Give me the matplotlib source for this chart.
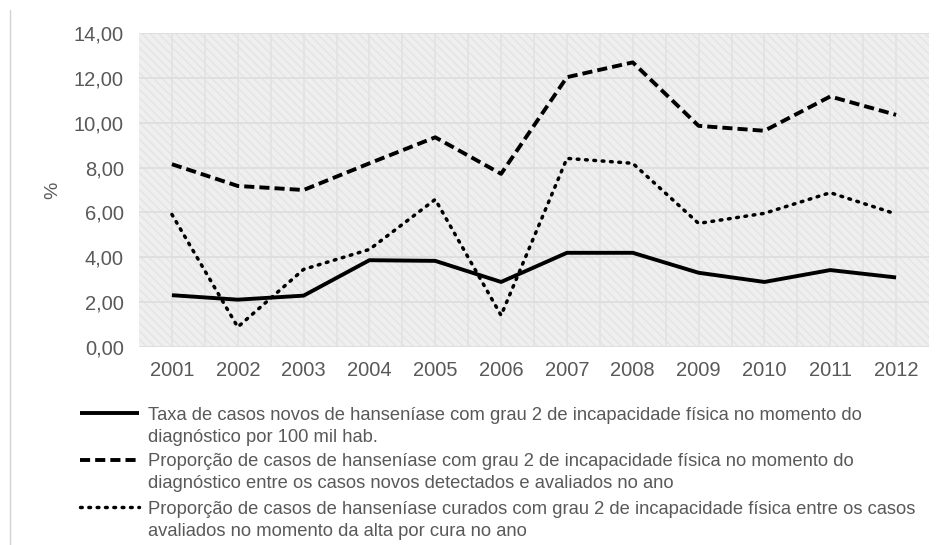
import matplotlib
matplotlib.use("Agg")
import matplotlib.pyplot as plt
from matplotlib.lines import Line2D
from matplotlib.patches import Rectangle
from matplotlib.ticker import FuncFormatter, MultipleLocator


YEARS = ["2001", "2002", "2003", "2004", "2005", "2006",
         "2007", "2008", "2009", "2010", "2011", "2012"]
TAXA_GRAU2 = [2.31, 2.11, 2.29, 3.87, 3.84, 2.90, 4.20, 4.20, 3.31, 2.90, 3.43, 3.10]
PROP_DIAGNOSTICO = [8.15, 7.18, 7.00, 8.19, 9.35, 7.72, 12.03, 12.69, 9.86, 9.64, 11.17, 10.35]
PROP_CURADOS = [5.91, 0.89, 3.46, 4.35, 6.58, 1.41, 8.41, 8.19, 5.51, 5.96, 6.88, 5.93]

LABELS = [
    ["Taxa de casos novos de hanseníase com grau 2 de incapacidade física no momento do",
     "diagnóstico por 100 mil hab."],
    ["Proporção de casos de hanseníase com grau 2 de incapacidade física no momento do",
     "diagnóstico entre os casos novos detectados e avaliados no ano"],
    ["Proporção de casos de hanseníase curados com grau 2 de incapacidade física entre os casos",
     "avaliados no momento da alta por cura no ano"],
]

TEXT_GREY = "#595959"
FONT = ["Liberation Sans", "DejaVu Sans"]

SOLID = dict(linestyle="-", linewidth=2.8, solid_capstyle="butt")
DASHED = dict(linestyle=(0, (2.6, 1.3)), linewidth=2.8, dash_capstyle="butt")
DOTTED = dict(linestyle=(0, (0.5, 1.9)), linewidth=2.5, dash_capstyle="round")


def main():
    fig = plt.figure(figsize=(9.47, 5.45), dpi=100)
    ax = fig.add_axes([139 / 947, 1 - 347 / 545, 790 / 947, 314 / 545])

    # hatched grey plot area
    ax.set_facecolor("#efefef")
    ax.add_patch(Rectangle((0, 0), 1, 1, transform=ax.transAxes,
                           facecolor="none", edgecolor="#e4e4e4",
                           hatch="\\\\\\\\", linewidth=0, zorder=0))

    x = list(range(len(YEARS)))
    ax.plot(x, TAXA_GRAU2, color="black", zorder=3, **SOLID)
    ax.plot(x, PROP_DIAGNOSTICO, color="black", zorder=3, **DASHED)
    ax.plot(x, PROP_CURADOS, color="black", zorder=3, **DOTTED)

    ax.set_xlim(-0.5, len(YEARS) - 0.5)
    ax.set_ylim(0, 14)
    ax.set_xticks(x)
    ax.set_xticklabels(YEARS)
    ax.yaxis.set_major_locator(MultipleLocator(2))
    ax.yaxis.set_major_formatter(FuncFormatter(lambda v, _: f"{v:.2f}".replace(".", ",")))

    ax.set_xticks([i + 0.5 for i in x[:-1]], minor=True)
    ax.grid(True, which="major", axis="y", color="#dedede", linewidth=1.3, zorder=1)
    ax.grid(True, which="both", axis="x", color="#e2e2e2", linewidth=1.2, zorder=1)
    ax.set_axisbelow(True)

    ax.tick_params(axis="both", which="both", length=0, colors=TEXT_GREY)
    ax.tick_params(axis="x", pad=10)
    ax.tick_params(axis="y", pad=11)
    for lab in ax.get_xticklabels() + ax.get_yticklabels():
        lab.set_fontfamily(FONT)
        lab.set_fontsize(14.5)
    for side in ax.spines.values():
        side.set_visible(False)

    ax.set_ylabel("%", fontsize=14, color=TEXT_GREY, family=FONT, labelpad=9)

    # left border line of the original chart frame
    fig.add_artist(Line2D([10 / 947, 10 / 947], [0, 1 - 10 / 545],
                          transform=fig.transFigure, color="#d4d4d4", linewidth=1))

    # legend below the chart, drawn by hand so the rows sit like the original
    rows_y = [413, 460, 507]
    for lines, style, ry in zip(LABELS, [SOLID, DASHED, DOTTED], rows_y):
        fy = 1 - ry / 545
        fig.add_artist(Line2D([80 / 947, 139 / 947], [fy, fy],
                              transform=fig.transFigure, color="black", **style))
        for k, text in enumerate(lines):
            fig.text(148 / 947, 1 - (ry + 22 * k) / 545, text, ha="left",
                     va="center_baseline", fontsize=13.2, color=TEXT_GREY,
                     family=FONT)

    fig.savefig("out.png", dpi=100)
    plt.close(fig)


if __name__ == "__main__":
    main()
